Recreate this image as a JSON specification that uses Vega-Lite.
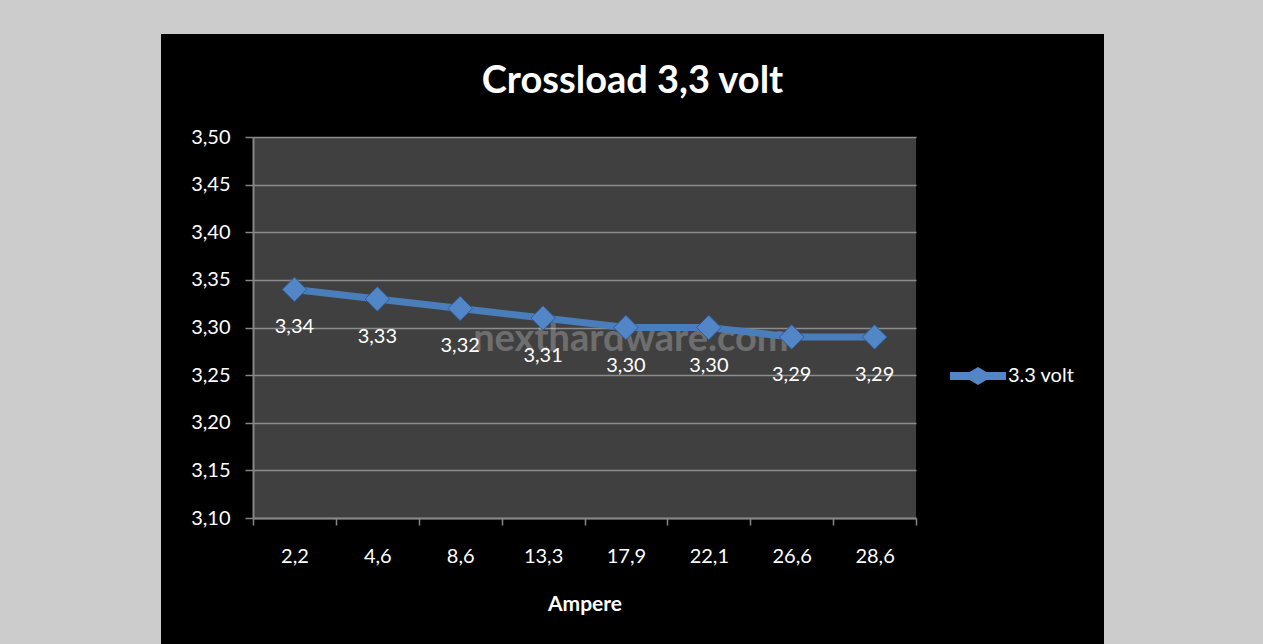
{
  "$schema": "https://vega.github.io/schema/vega-lite/v6.json",
  "width": 663,
  "height": 381,
  "autosize": {"type": "none"},
  "padding": {"left": 253, "top": 137, "right": 347, "bottom": 126},
  "background": "#000000",
  "config": {
    "view": {"fill": "#404040", "stroke": null},
    "font": "Lato",
    "locale": {"number": {"decimal": ",", "thousands": ".", "grouping": [3], "currency": ["", " €"]}}
  },
  "resolve": {"scale": {"x": "independent"}},
  "layer": [
    {
      "data": {"values": [{}]},
      "layer": [
        {
          "mark": {"type": "rect", "color": "#cccccc", "clip": false},
          "encoding": {
            "x": {"datum": -1, "type": "quantitative", "scale": {"domain": [0, 1]}, "axis": null},
            "x2": {"datum": -0.13876},
            "y": {"datum": 2.5, "type": "quantitative", "scale": {"domain": [3.1, 3.5], "nice": false, "zero": false}},
            "y2": {"datum": 4.2}
          }
        },
        {
          "mark": {"type": "rect", "color": "#cccccc", "clip": false},
          "encoding": {
            "x": {"datum": 1.28356, "type": "quantitative", "scale": {"domain": [0, 1]}, "axis": null},
            "x2": {"datum": 2.5},
            "y": {"datum": 2.5, "type": "quantitative"},
            "y2": {"datum": 4.2}
          }
        },
        {
          "mark": {"type": "rect", "color": "#cccccc", "clip": false},
          "encoding": {
            "x": {"datum": -1, "type": "quantitative", "scale": {"domain": [0, 1]}, "axis": null},
            "x2": {"datum": 2.5},
            "y": {"datum": 3.6081, "type": "quantitative"},
            "y2": {"datum": 4.2}
          }
        },
        {
          "mark": {"type": "text", "text": "Crossload 3,3 volt", "font": "Lato", "fontSize": 38, "fontWeight": "bold", "color": "#ffffff", "align": "center", "baseline": "alphabetic", "clip": false},
          "encoding": {
            "x": {"datum": 0.5724, "type": "quantitative", "scale": {"domain": [0, 1]}, "axis": null},
            "y": {"datum": 3.5462, "type": "quantitative"}
          }
        },
        {
          "mark": {"type": "text", "text": "nexthardware.com", "font": "Lato", "fontSize": 38, "fontWeight": "bold", "color": "#ffffff", "opacity": 0.24, "baseline": "middle", "clip": false},
          "encoding": {
            "x": {"datum": 0.57, "type": "quantitative", "scale": {"domain": [0, 1]}, "axis": null},
            "y": {"datum": 3.2869, "type": "quantitative"}
          }
        }
      ]
    },
    {
      "data": {
        "values": [
          {"ampere": "2,2", "volt": 3.34, "serie": "3.3 volt"},
          {"ampere": "4,6", "volt": 3.33, "serie": "3.3 volt"},
          {"ampere": "8,6", "volt": 3.32, "serie": "3.3 volt"},
          {"ampere": "13,3", "volt": 3.31, "serie": "3.3 volt"},
          {"ampere": "17,9", "volt": 3.30, "serie": "3.3 volt"},
          {"ampere": "22,1", "volt": 3.30, "serie": "3.3 volt"},
          {"ampere": "26,6", "volt": 3.29, "serie": "3.3 volt"},
          {"ampere": "28,6", "volt": 3.29, "serie": "3.3 volt"}
        ]
      },
      "encoding": {
        "x": {
          "field": "ampere",
          "type": "ordinal",
          "sort": null,
          "bandPosition": 0.5,
          "scale": {"type": "band", "paddingInner": 0, "paddingOuter": 0},
          "title": "Ampere",
          "axis": {
            "tickBand": "extent",
            "grid": false,
            "domainColor": "#868686",
            "domainWidth": 2,
            "tickColor": "#868686",
            "tickWidth": 1.5,
            "tickSize": 7,
            "labelAngle": 0,
            "labelColor": "#ffffff",
            "labelFont": "Lato",
            "labelFontSize": 20,
            "labelPadding": 21,
            "titleColor": "#ffffff",
            "titleFont": "Lato",
            "titleFontSize": 21,
            "titleFontWeight": "bold",
            "titlePadding": 27
          }
        },
        "y": {
          "field": "volt",
          "type": "quantitative",
          "title": null,
          "scale": {"domain": [3.1, 3.5], "nice": false, "zero": false},
          "axis": {
            "values": [3.1, 3.15, 3.2, 3.25, 3.3, 3.35, 3.4, 3.45, 3.5],
            "format": ".2f",
            "grid": true,
            "gridColor": "#8c8c8c",
            "gridWidth": 1.5,
            "domainColor": "#868686",
            "domainWidth": 2,
            "tickColor": "#868686",
            "tickWidth": 1.5,
            "tickSize": 8,
            "labelColor": "#ffffff",
            "labelFont": "Lato",
            "labelFontSize": 20,
            "labelPadding": 15
          }
        }
      },
      "layer": [
        {
          "mark": {"type": "line", "color": "#4a7ebb", "strokeWidth": 7}
        },
        {
          "mark": {"type": "point", "shape": "diamond", "filled": true, "size": 600, "opacity": 1, "stroke": "#2f5c96", "strokeWidth": 1},
          "encoding": {
            "color": {
              "field": "serie",
              "type": "nominal",
              "scale": {"range": ["#5286c6"]},
              "legend": {
                "orient": "none",
                "legendX": 697,
                "legendY": 211,
                "title": null,
                "padding": 0,
                "symbolType": "M-1,-0.14L-0.3,-0.14L0,-0.32L0.3,-0.14L1,-0.14L1,0.14L0.3,0.14L0,0.32L-0.3,0.14L-1,0.14Z",
                "symbolSize": 3136,
                "symbolStrokeWidth": 0,
                "labelColor": "#ffffff",
                "labelFont": "Lato",
                "labelFontSize": 20,
                "labelOffset": 2
              }
            }
          }
        },
        {
          "mark": {"type": "text", "color": "#ffffff", "font": "Lato", "fontSize": 20, "dy": 38, "baseline": "middle"},
          "encoding": {
            "text": {"field": "volt", "type": "quantitative", "format": ".2f"}
          }
        }
      ]
    }
  ]
}
